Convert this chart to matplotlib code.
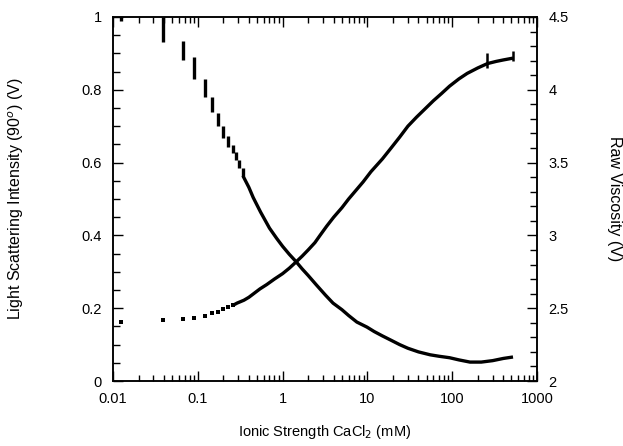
import matplotlib.pyplot as plt
import numpy as np
from matplotlib.ticker import LogLocator, FixedLocator, FixedFormatter, MultipleLocator

plt.rcParams['font.family'] = ['Liberation Sans', 'DejaVu Sans']

# viscosity (right axis): early readings show as vertical bars (x, low, high)
visc_bar_x = [0.0124, 0.039, 0.067, 0.09, 0.12, 0.147, 0.174, 0.2, 0.228, 0.26, 0.28, 0.31, 0.34]
visc_bar_lo = [4.47, 4.325, 4.205, 4.075, 3.95, 3.85, 3.75, 3.67, 3.607, 3.565, 3.52, 3.46, 3.41]
visc_bar_hi = [4.5, 4.5, 4.335, 4.225, 4.075, 3.95, 3.84, 3.75, 3.683, 3.62, 3.575, 3.52, 3.46]

visc_x = [0.34, 0.4, 0.45, 0.55, 0.7, 0.85, 1.0, 1.2, 1.44, 1.7, 2, 2.5, 3.2, 3.93,
          5, 6, 7.5, 9.9, 12, 15, 19, 24, 30, 40, 55, 70, 93, 120, 162, 220, 300, 400, 521]
visc_y = [3.41, 3.33, 3.26, 3.16, 3.05, 2.98, 2.925, 2.87, 2.82, 2.77, 2.725, 2.66,
          2.59, 2.535, 2.49, 2.45, 2.405, 2.37, 2.34, 2.31, 2.28, 2.25, 2.225, 2.20,
          2.18, 2.17, 2.16, 2.145, 2.13, 2.13, 2.14, 2.155, 2.165]

# light scattering (left axis): early discrete points, then dense trace
ls_pt_x = [0.0124, 0.039, 0.067, 0.09, 0.12, 0.147, 0.174, 0.2, 0.228, 0.26]
ls_pt_y = [0.162, 0.167, 0.170, 0.173, 0.178, 0.186, 0.19, 0.197, 0.203, 0.208]

ls_x = [0.26, 0.29, 0.35, 0.4, 0.54, 0.65, 0.8, 1.0, 1.2, 1.44, 1.7, 2, 2.4, 2.76,
        3.3, 4, 5, 6, 7.4, 8.9, 11, 15, 19, 24, 30, 38, 48, 60, 75, 93, 120, 150,
        200, 260, 330, 400, 521]
ls_y = [0.208, 0.214, 0.222, 0.23, 0.253, 0.265, 0.28, 0.295, 0.31, 0.327, 0.343,
        0.36, 0.38, 0.40, 0.425, 0.45, 0.476, 0.50, 0.525, 0.547, 0.575, 0.61, 0.64,
        0.67, 0.70, 0.725, 0.748, 0.77, 0.79, 0.81, 0.83, 0.845, 0.86, 0.872, 0.878,
        0.882, 0.887]

# small spikes in the light scattering trace
ls_spike_x = [260, 521]
ls_spike_lo = [0.86, 0.88]
ls_spike_hi = [0.90, 0.906]

x_ticks = [0.01, 0.1, 1, 10, 100, 1000]
x_labels = ['0.01', '0.1', '1', '10', '100', '1000']
left_ticks = [0, 0.2, 0.4, 0.6, 0.8, 1.0]
left_labels = ['0', '0.2', '0.4', '0.6', '0.8', '1']
right_ticks = [2, 2.5, 3, 3.5, 4, 4.5]
right_labels = ['2', '2.5', '3', '3.5', '4', '4.5']

fig = plt.figure(figsize=(6.23, 4.46), dpi=100)
ax = fig.add_axes([0.1814, 0.1457, 0.6806, 0.8162])
ax2 = ax.twinx()

ax.plot(ls_pt_x, ls_pt_y, 's', color='black', markersize=2.6, markeredgewidth=0)
ax.plot(ls_x, ls_y, '-', color='black', lw=2.4, solid_capstyle='butt')
ax.vlines(ls_spike_x, ls_spike_lo, ls_spike_hi, color='black', lw=1.8)

ax2.vlines(visc_bar_x, visc_bar_lo, visc_bar_hi, color='black', lw=2.4)
ax2.plot(visc_x, visc_y, '-', color='black', lw=2.4, solid_capstyle='butt')

ax.set_xscale('log')
ax.set_xlim(0.01, 1000)
ax.set_ylim(0, 1)
ax2.set_ylim(2, 4.5)

ax.xaxis.set_major_locator(FixedLocator(x_ticks))
ax.xaxis.set_major_formatter(FixedFormatter(x_labels))
ax.xaxis.set_minor_locator(LogLocator(base=10, subs=np.arange(2, 10)))
ax.yaxis.set_major_locator(FixedLocator(left_ticks))
ax.yaxis.set_major_formatter(FixedFormatter(left_labels))
ax.yaxis.set_minor_locator(MultipleLocator(0.05))
ax2.yaxis.set_major_locator(FixedLocator(right_ticks))
ax2.yaxis.set_major_formatter(FixedFormatter(right_labels))
ax2.yaxis.set_minor_locator(MultipleLocator(0.1))

ax.tick_params(axis='x', which='both', direction='in', top=True, labelsize=10.5, pad=8)
ax.tick_params(axis='x', which='major', length=7, width=1)
ax.tick_params(axis='x', which='minor', length=4, width=1)
ax.tick_params(axis='y', which='both', direction='in', right=False, labelsize=10.5, pad=8)
ax.tick_params(axis='y', which='major', length=7, width=1)
ax.tick_params(axis='y', which='minor', length=5, width=1)
ax2.tick_params(axis='y', which='both', direction='in', labelsize=10.5, pad=8)
ax2.tick_params(axis='y', which='major', length=7, width=1)
ax2.tick_params(axis='y', which='minor', length=5, width=1)

for a in (ax, ax2):
    for s in a.spines.values():
        s.set_linewidth(1.1)

ax.set_xlabel('Ionic Strength CaCl$_2$ (mM)', fontsize=10.5, labelpad=12)
ax.set_ylabel('Light Scattering Intensity (90$^o$) (V)', fontsize=11.5, labelpad=40)
ax2.set_ylabel('Raw Viscosity (V)', fontsize=11.5, rotation=-90, labelpad=28, va='bottom')

fig.savefig('out.png', dpi=100)
